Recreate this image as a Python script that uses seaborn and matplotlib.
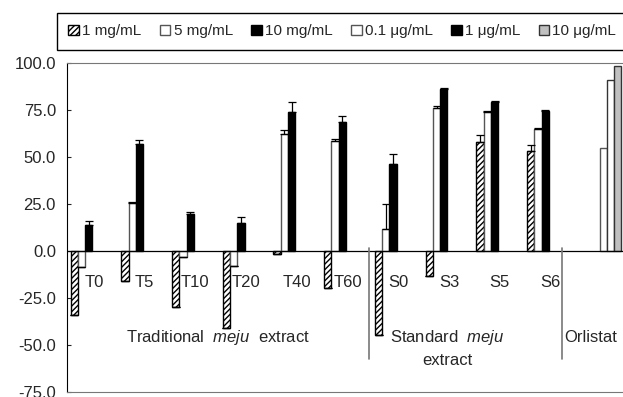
import numpy as np
import pandas as pd
import seaborn as sns
import matplotlib.pyplot as plt
from matplotlib.patches import Patch

sns.set_style("white")
plt.rcParams['font.family'] = ['Liberation Sans', 'DejaVu Sans']
plt.rcParams['mathtext.fontset'] = 'custom'
plt.rcParams['mathtext.it'] = 'Liberation Sans:italic'
plt.rcParams['mathtext.rm'] = 'Liberation Sans'
plt.rcParams['hatch.linewidth'] = 1.0

nan = np.nan
categories = ['T0', 'T5', 'T10', 'T20', 'T40', 'T60', 'S0', 'S3', 'S5', 'S6', 'Orlistat']
series = ['1 mg/mL', '5 mg/mL', '10 mg/mL', '0.1 μg/mL', '1 μg/mL', '10 μg/mL']

mg1 = [-34.0, -15.8, -30.0, -41.1, -1.8, -19.9, -44.7, -13.3, 58.0, 53.2, nan]
mg5 = [-8.3, 25.4, -3.4, -8.0, 62.0, 58.5, 11.5, 75.9, 74.1, 65.1, nan]
mg10 = [13.8, 56.8, 19.5, 14.7, 74.1, 68.6, 46.4, 86.0, 79.1, 74.5, nan]
ug01 = [nan] * 10 + [55.0]
ug1 = [nan] * 10 + [91.1]
ug10 = [nan] * 10 + [98.2]

mg1_err = [0, 0, 0, 0, 0, 0, 0, 0, 3.7, 3.2, nan]
mg5_err = [0, 0.8, 0, 0, 2.2, 1.0, 13.3, 1.1, 0.5, 0.5, nan]
mg10_err = [2.2, 2.2, 1.1, 3.2, 5.0, 3.0, 5.3, 0.5, 0.5, 0.5, nan]
ug_err = [nan] * 10 + [0]

values = [mg1, mg5, mg10, ug01, ug1, ug10]
errors = [mg1_err, mg5_err, mg10_err, ug_err, ug_err, ug_err]

rows = []
for s, vals in zip(series, values):
    for c, v in zip(categories, vals):
        if not np.isnan(v):
            rows.append({'sample': c, 'conc': s, 'inhibition': v})
df = pd.DataFrame(rows)

faces = {'1 mg/mL': 'white', '5 mg/mL': 'white', '10 mg/mL': 'black',
         '0.1 μg/mL': 'white', '1 μg/mL': 'white', '10 μg/mL': '#c0c0c0'}
edges = ['black', '#555555', 'black', '#555555', '#333333', '#333333']

fig = plt.figure(figsize=(6.23, 3.97), dpi=100)
ax = fig.add_axes([67 / 623, 5 / 397, 558 / 623, 329 / 397])

sns.barplot(data=df, x='sample', y='inhibition', hue='conc', order=categories,
            hue_order=series, palette=faces, saturation=1, width=0.86,
            errorbar=None, legend=False, ax=ax)

for cont, s, vals, errs, ec in zip(ax.containers, series, values, errors, edges):
    ys = [v for v in vals if not np.isnan(v)]
    es = [e for v, e in zip(vals, errs) if not np.isnan(v)]
    xs = []
    for bar in cont:
        bar.set_edgecolor(ec)
        bar.set_linewidth(1.0)
        if s == '1 mg/mL':
            bar.set_hatch('//////')
        xs.append(bar.get_x() + bar.get_width() / 2)
    es = np.array(es)
    if es.any():
        ax.errorbar(xs, ys, yerr=[np.zeros_like(es), es], fmt='none',
                    ecolor='black', elinewidth=0.9, capsize=3, capthick=0.9)

ax.axhline(0, color='black', lw=0.9)
ax.set_xlim(-0.5, 10.5)
ax.set_ylim(-75, 100)
ax.set_yticks(np.arange(-75, 101, 25))
ax.set_yticklabels([f'{t:.1f}' for t in np.arange(-75, 101, 25)], fontsize=12)
ax.tick_params(axis='y', direction='in', length=3, left=True, pad=8)
ax.set_xticks([])
ax.set_xlabel('')
ax.set_ylabel('')
ax.spines['left'].set_color('black')
ax.spines['top'].set_color('#777777')
ax.spines['bottom'].set_color('#777777')
ax.spines['right'].set_visible(False)

for i, c in enumerate(categories[:-1]):
    ax.text(i + 0.03, -17, c, ha='center', va='center', fontsize=12)

ax.plot([5.45, 5.45], [1.5, -57.5], color='#777777', lw=1.2)
ax.plot([9.26, 9.26], [1.5, -57.5], color='#777777', lw=1.2)
ax.text(2.48, -46, r'Traditional  $\mathit{meju}$  extract', ha='center', va='center', fontsize=12)
ax.text(7.0, -46, r'Standard  $\mathit{meju}$', ha='center', va='center', fontsize=12)
ax.text(7.0, -58, 'extract', ha='center', va='center', fontsize=12)
ax.text(9.83, -46, 'Orlistat', ha='center', va='center', fontsize=12)

handles = []
for s, ec in zip(series, edges):
    if s == '1 mg/mL':
        handles.append(Patch(facecolor='white', edgecolor='black', hatch='//////', label=s))
    elif s == '1 μg/mL':
        handles.append(Patch(facecolor='black', edgecolor='black', label=s))
    else:
        handles.append(Patch(facecolor=faces[s], edgecolor=ec, label=s))
leg = fig.legend(handles=handles, ncol=6, loc='upper left',
                 bbox_to_anchor=(57 / 623, 1 - 13 / 397), fontsize=11,
                 frameon=True, fancybox=False, edgecolor='black', framealpha=1,
                 handlelength=0.7, handleheight=0.7, handletextpad=0.2,
                 columnspacing=1.2, borderpad=0.75, borderaxespad=0)
leg.get_frame().set_linewidth(1.0)

fig.savefig('out.png', dpi=100)
